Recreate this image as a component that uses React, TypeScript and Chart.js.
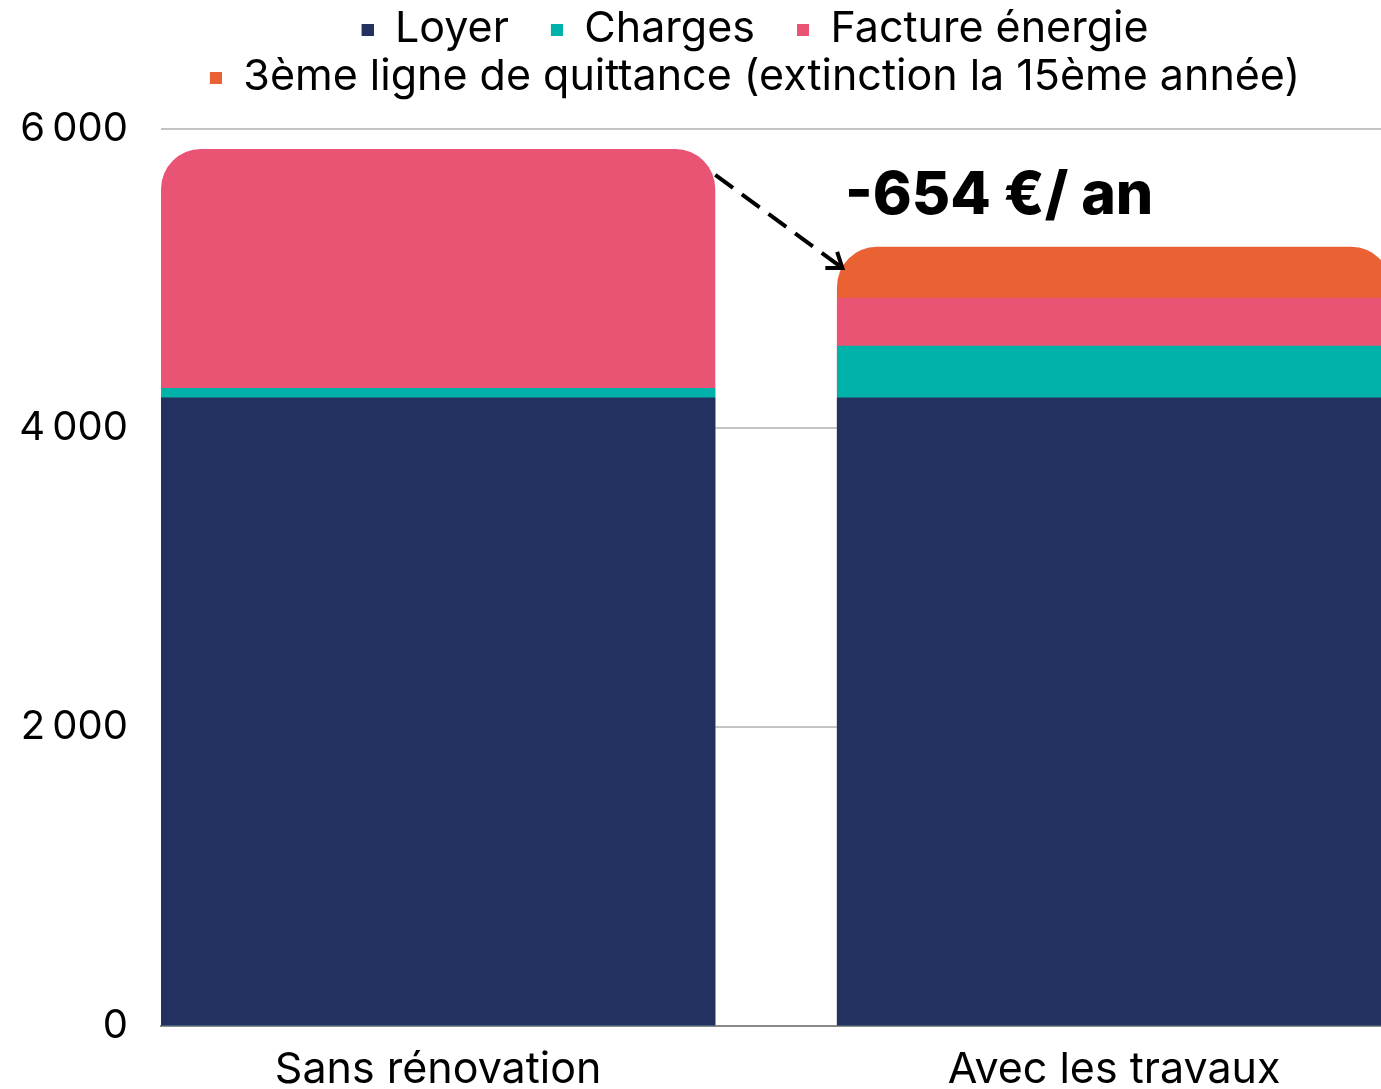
import React, { useEffect, useRef } from 'react';
import { Chart, registerables } from 'chart.js';

Chart.register(...registerables);

// ---------- data ----------
const categories = ['Sans rénovation', 'Avec les travaux'];
const seriesNames = ['Loyer', 'Charges', 'Facture énergie', '3ème ligne de quittance (extinction la 15ème année)'];
const loyer: (number | null)[] = [4205, 4205];
const charges: (number | null)[] = [63, 346];
const facture: (number | null)[] = [1598, 321];
const troisiemeLigne: (number | null)[] = [null, 341];
const yTickValues = [0, 2000, 4000, 6000];
const savingText = '-654 €/ an';
const savingTextPos = { x: 0.83, y: 5550 };
const arrowFrom = { x: 0.41, y: 5693 };
const arrowTo = { x: 0.598, y: 5070 };

// ---------- style ----------
const colors = ['#22315F', '#00B2A9', '#E95374', '#EA6234'];
const FONT = 'Inter';
const CW = 1473;
const CH = 1114;
const X_MIN = -0.41;
const X_MAX = 1.531;
const TOP_RADIUS = 40;
const LABEL_SIZE = 43;

const allSeries = [loyer, charges, facture, troisiemeLigne];

function isTopSegment(s: number, i: number) {
  if (allSeries[s][i] == null) return false;
  for (let k = s + 1; k < allSeries.length; k++) {
    const v = allSeries[k][i];
    if (v != null && v !== 0) return false;
  }
  return true;
}

function cumulativeData(s: number) {
  const pts: { x: number; y: number }[] = [];
  categories.forEach((_, i) => {
    if (allSeries[s][i] == null) return;
    let total = 0;
    for (let k = 0; k <= s; k++) total += allSeries[k][i] ?? 0;
    pts.push({ x: i, y: total });
  });
  return pts;
}

function legendSwatch(color: string, width: number) {
  const c = document.createElement('canvas');
  c.width = width;
  c.height = 12;
  const g = c.getContext('2d')!;
  g.fillStyle = color;
  g.fillRect(width - 12, 0, 12, 12);
  return c;
}

function formatTick(v: number) {
  return String(v).replace(/\B(?=(\d{3})+(?!\d))/g, '\u202f');
}

const annotationPlugin = {
  id: 'savingAnnotation',
  afterDatasetsDraw(chart: any) {
    const { ctx, scales } = chart;
    const xs = scales.x;
    const ys = scales.y;
    const x1 = xs.getPixelForValue(arrowFrom.x);
    const y1 = ys.getPixelForValue(arrowFrom.y);
    const x2 = xs.getPixelForValue(arrowTo.x);
    const y2 = ys.getPixelForValue(arrowTo.y);
    ctx.save();
    ctx.strokeStyle = '#000';
    ctx.lineWidth = 4;
    ctx.setLineDash([22, 11]);
    ctx.beginPath();
    ctx.moveTo(x1, y1);
    ctx.lineTo(x2, y2);
    ctx.stroke();
    ctx.setLineDash([]);
    const ang = Math.atan2(y2 - y1, x2 - x1);
    const L = 17;
    ctx.lineJoin = 'miter';
    ctx.beginPath();
    ctx.moveTo(x2 - L * Math.cos(ang - Math.PI / 5), y2 - L * Math.sin(ang - Math.PI / 5));
    ctx.lineTo(x2, y2);
    ctx.lineTo(x2 - L * Math.cos(ang + Math.PI / 5), y2 - L * Math.sin(ang + Math.PI / 5));
    ctx.stroke();
    ctx.font = `800 59px ${FONT}`;
    ctx.fillStyle = '#000';
    ctx.textAlign = 'center';
    ctx.textBaseline = 'middle';
    ctx.fillText(savingText, xs.getPixelForValue(savingTextPos.x), ys.getPixelForValue(savingTextPos.y));
    ctx.restore();
  },
};

export default function App() {
  const ref = useRef<HTMLCanvasElement>(null);
  useEffect(() => {
    const swatchW = 49;
    const chart = new Chart(ref.current!, {
      type: 'bar',
      data: {
        datasets: seriesNames.map((name, s) => ({
          label: name,
          data: cumulativeData(s),
          backgroundColor: colors[s],
          grouped: false,
          categoryPercentage: 1,
          barPercentage: 0.82,
          borderWidth: 0,
          borderRadius: (c: any) => {
            const idx = c.raw ? c.raw.x : c.dataIndex;
            return isTopSegment(s, idx)
              ? { topLeft: TOP_RADIUS, topRight: TOP_RADIUS, bottomLeft: 0, bottomRight: 0 }
              : 0;
          },
        })),
      },
      options: {
        animation: false,
        responsive: false,
        layout: { padding: { top: 3, left: 0, right: 0, bottom: 0 } },
        plugins: {
          tooltip: { enabled: false },
          title: {
            display: true,
            text: '',
            weight: 1,
            padding: { top: 0, bottom: 0 },
            font: { size: 20, lineHeight: 1 },
          } as any,
          legend: {
            position: 'top',
            labels: {
              font: { family: FONT, size: LABEL_SIZE },
              color: '#000',
              padding: 5,
              usePointStyle: true,
              pointStyleWidth: swatchW,
              boxHeight: 12,
              generateLabels: (ch: any) => {
                const items = (Chart as any).defaults.plugins.legend.labels.generateLabels(ch);
                return items.map((it: any) => ({
                  ...it,
                  pointStyle: legendSwatch(colors[it.datasetIndex], swatchW),
                }));
              },
            },
          },
        },
        scales: {
          x: {
            type: 'linear',
            min: X_MIN,
            max: X_MAX,
            offset: false,
            grid: { display: false, drawTicks: false, offset: false },
            border: { display: true, color: '#8a8a8a', width: 2 },
            afterBuildTicks: (sc: any) => {
              sc.ticks = categories.map((_, i) => ({ value: i }));
            },
            ticks: {
              callback: (v: any) => categories[v] ?? '',
              padding: 18,
              color: '#000',
              font: { family: FONT, size: LABEL_SIZE },
              maxRotation: 0,
              autoSkip: false,
            },
          },
          y: {
            min: 0,
            max: 6000,
            afterFit: (sc: any) => {
              sc.width = 161;
            },
            afterBuildTicks: (sc: any) => {
              sc.ticks = yTickValues.map((v) => ({ value: v }));
            },
            grid: { color: '#c4c4c4', lineWidth: 2, drawTicks: false },
            border: { display: false },
            ticks: {
              callback: (v: any) => formatTick(v),
              padding: 33,
              color: '#000',
              font: { family: FONT, size: 40 },
            },
          },
        },
      } as any,
      plugins: [annotationPlugin],
    });
    return () => chart.destroy();
  }, []);
  return (
    <div
      style={{
        position: 'fixed',
        left: 0,
        top: 0,
        width: '100vw',
        height: '100vh',
        overflow: 'hidden',
        background: '#fff',
      }}
    >
      <canvas ref={ref} width={CW} height={CH} style={{ display: 'block', width: CW, height: CH }} />
    </div>
  );
}
